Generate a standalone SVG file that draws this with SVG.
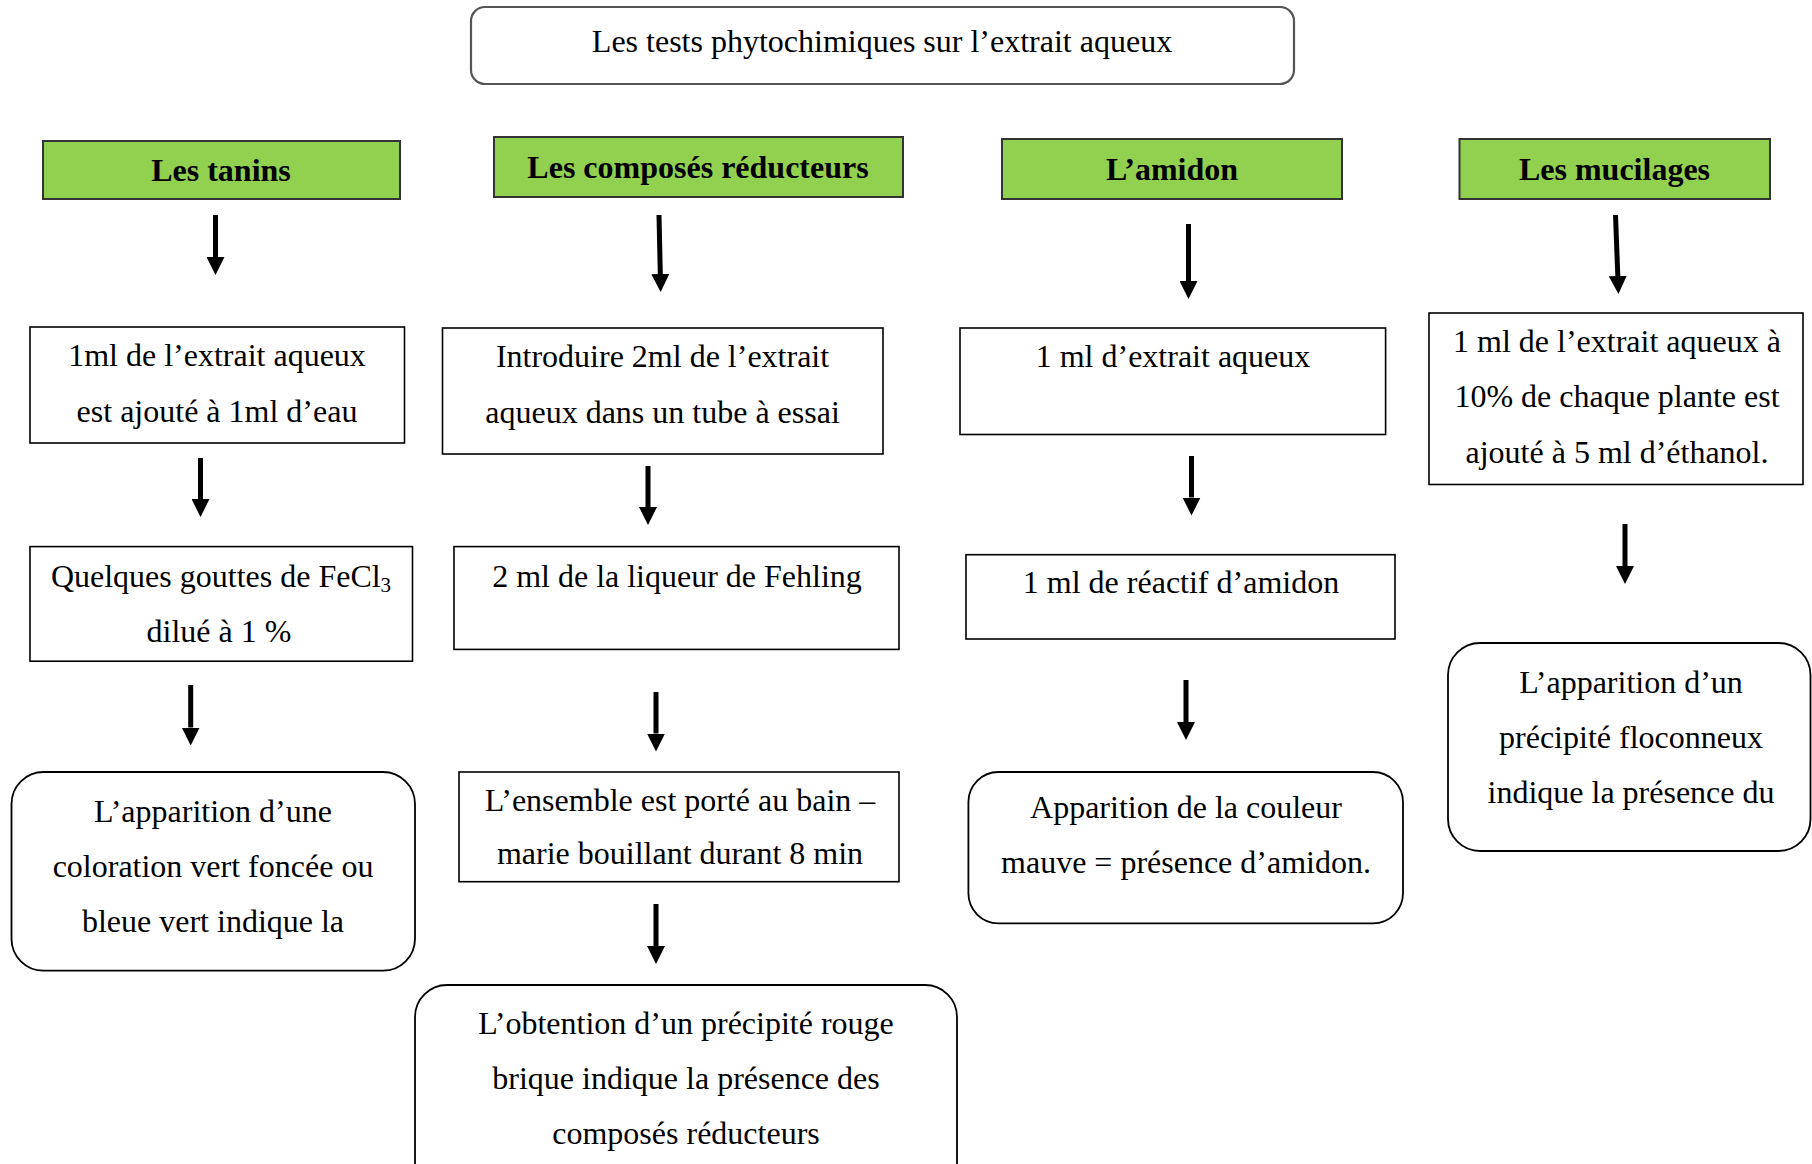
<svg xmlns="http://www.w3.org/2000/svg" width="1812" height="1164" viewBox="0 0 1812 1164">
<style>
text{font-family:"Liberation Serif","Times New Roman",serif;font-size:32px;fill:#000;text-anchor:middle}
.h{font-weight:bold}
.box{fill:#fff;stroke:#000;stroke-width:1.6}
.rbox{fill:#fff;stroke:#000;stroke-width:1.8}
.green{fill:#92D050;stroke:#333;stroke-width:2}
.title{fill:#fff;stroke:#555;stroke-width:2.2}
.arr{stroke:#000;stroke-width:5;fill:none;marker-end:url(#ah)}
</style>
<defs>
<marker id="ah" markerUnits="userSpaceOnUse" markerWidth="18" markerHeight="18" refX="0" refY="9" orient="auto" viewBox="0 0 18 18">
<path d="M0,0 L18,9 L0,18 z" fill="#000"/>
</marker>
</defs>
<rect width="1812" height="1164" fill="#fff"/>

<g id="title">
<rect class="title" x="471" y="7" width="823" height="77" rx="14"/>
<text x="882" y="52">Les tests phytochimiques sur l’extrait aqueux</text>
</g>

<g id="tanins">
<rect class="green" x="43" y="141" width="357" height="58"/>
<text class="h" x="221" y="181">Les tanins</text>
</g>
<g id="composes">
<rect class="green" x="494" y="137" width="409" height="60"/>
<text class="h" x="698" y="178">Les composés réducteurs</text>
</g>
<g id="amidon">
<rect class="green" x="1002" y="139" width="340" height="60"/>
<text class="h" x="1172" y="180">L’amidon</text>
</g>
<g id="mucilages">
<rect class="green" x="1459.5" y="139" width="310.5" height="60"/>
<text class="h" x="1614.5" y="180">Les mucilages</text>
</g>

<g id="tanins-step1">
<rect class="box" x="30" y="327" width="374.5" height="116"/>
<text x="217" y="366">1ml de l’extrait aqueux</text>
<text x="217" y="421.5">est ajouté à 1ml d’eau</text>
</g>
<g id="composes-step1">
<rect class="box" x="442.5" y="328" width="440.5" height="126"/>
<text x="662.5" y="367">Introduire 2ml de l’extrait</text>
<text x="662.5" y="422.5">aqueux dans un tube à essai</text>
</g>
<g id="amidon-step1">
<rect class="box" x="960" y="328" width="425.6" height="106.5"/>
<text x="1173" y="367">1 ml d’extrait aqueux</text>
</g>
<g id="mucilages-step1">
<rect class="box" x="1429" y="313" width="374" height="171.5"/>
<text x="1617" y="351.5">1 ml de l’extrait aqueux à</text>
<text x="1617" y="407.3">10% de chaque plante est</text>
<text x="1617" y="463.3">ajouté à 5 ml d’éthanol.</text>
</g>

<g id="tanins-step2">
<rect class="box" x="30" y="546.6" width="382.5" height="114.6"/>
<text x="221" y="587">Quelques gouttes de FeCl<tspan font-size="21" dy="5">3</tspan></text>
<text x="219" y="642">dilué à 1 %</text>
</g>
<g id="composes-step2">
<rect class="box" x="454" y="546.6" width="445" height="102.8"/>
<text x="677" y="587">2 ml de la liqueur de Fehling</text>
</g>
<g id="amidon-step2">
<rect class="box" x="966" y="554.7" width="429" height="84.3"/>
<text x="1181" y="593">1 ml de réactif d’amidon</text>
</g>

<g id="tanins-result">
<rect class="rbox" x="11.5" y="772" width="403.5" height="198.7" rx="32"/>
<text x="213" y="822">L’apparition d’une</text>
<text x="213" y="877">coloration vert foncée ou</text>
<text x="213" y="932">bleue vert indique la</text>
</g>
<g id="composes-step3">
<rect class="box" x="459" y="772" width="440" height="109.7"/>
<text x="680" y="811.3">L’ensemble est porté au bain –</text>
<text x="680" y="864.2">marie bouillant durant 8 min</text>
</g>
<g id="amidon-result">
<rect class="rbox" x="968.4" y="772" width="434.6" height="151.3" rx="30"/>
<text x="1186" y="817.6">Apparition de la couleur</text>
<text x="1186" y="872.7">mauve = présence d’amidon.</text>
</g>
<g id="mucilages-result">
<rect class="rbox" x="1448" y="643" width="362.5" height="208" rx="32"/>
<text x="1631" y="692.7">L’apparition d’un</text>
<text x="1631" y="747.7">précipité floconneux</text>
<text x="1631" y="802.8">indique la présence du</text>
</g>
<g id="composes-result">
<rect class="rbox" x="415" y="985" width="542" height="230" rx="32"/>
<text x="686" y="1033.6">L’obtention d’un précipité rouge</text>
<text x="686" y="1088.7">brique indique la présence des</text>
<text x="686" y="1143.7">composés réducteurs</text>
</g>

<g id="connectors">
<line class="arr" x1="215.5" y1="215" x2="215.5" y2="257"/>
<line class="arr" x1="659" y1="215" x2="660.3" y2="274"/>
<line class="arr" x1="1188.5" y1="224" x2="1188.5" y2="281"/>
<line class="arr" x1="1615.5" y1="215" x2="1617.8" y2="276"/>
<line class="arr" x1="200.5" y1="458" x2="200.5" y2="499"/>
<line class="arr" x1="648" y1="466" x2="648" y2="507"/>
<line class="arr" x1="1191.5" y1="456" x2="1191.5" y2="497.5"/>
<line class="arr" x1="1625" y1="524" x2="1625" y2="566"/>
<line class="arr" x1="190.7" y1="685" x2="190.7" y2="727.5"/>
<line class="arr" x1="656" y1="692" x2="656" y2="733.5"/>
<line class="arr" x1="1186" y1="680" x2="1186" y2="722"/>
<line class="arr" x1="656" y1="904" x2="656" y2="946"/>
</g>
</svg>
